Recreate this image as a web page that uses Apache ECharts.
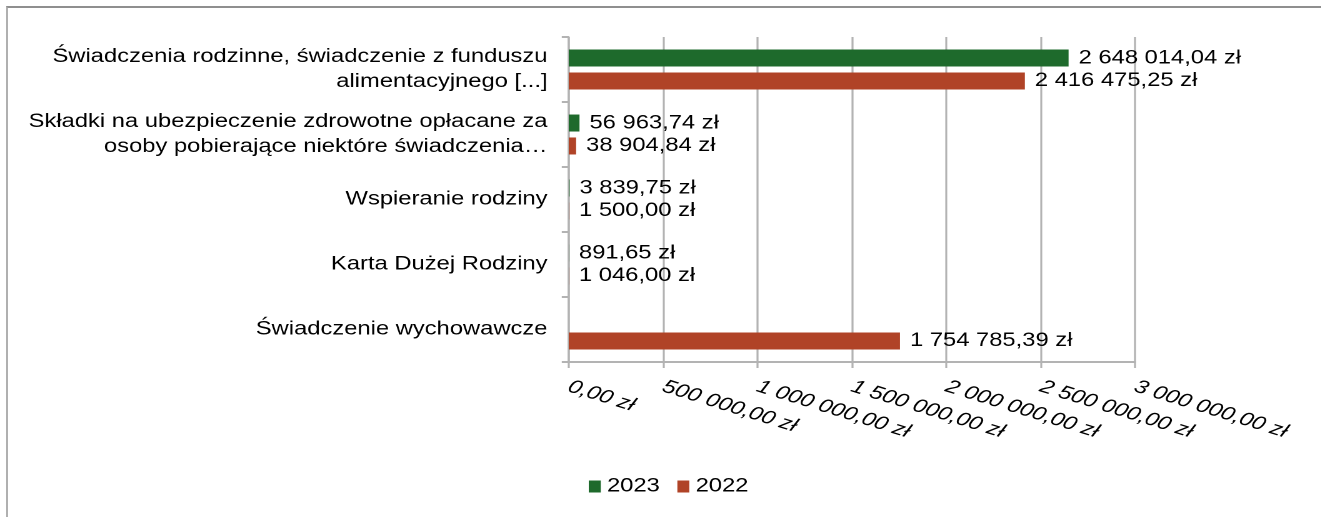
<!DOCTYPE html>
<html>
<head>
<meta charset="utf-8">
<script src="https://cdn.jsdelivr.net/npm/echarts@6/dist/echarts.min.js"></script>
<style>
  html, body { margin: 0; padding: 0; background: #fff; overflow: hidden; }
  #frame {
    position: absolute; left: 6px; top: 6px; width: 1400px; height: 600px;
    border-top: 2px solid #8f8f8f; border-left: 2px solid #b0b0b0;
  }
  /* the source picture is stretched sideways, so the chart is too */
  #chart {
    position: absolute; left: 0; top: 0; width: 1057px; height: 517px;
    transform: scaleX(1.25); transform-origin: 0 0;
  }
</style>
</head>
<body>
<div id="frame"></div>
<div id="chart"></div>
<script>
const categories = [
  'Świadczenia rodzinne, świadczenie z funduszu\nalimentacyjnego [...]',
  'Składki na ubezpieczenie zdrowotne opłacane za\nosoby pobierające niektóre świadczenia…',
  'Wspieranie rodziny',
  'Karta Dużej Rodziny',
  'Świadczenie wychowawcze'
];
const values2023 = [2648014.04, 56963.74, 3839.75, 891.65, null];
const values2022 = [2416475.25, 38904.84, 1500.00, 1046.00, 1754785.39];
const seriesNames = ['2023', '2022'];
const colors = ['#1e6a2c', '#b04327'];

function fmt(v) {
  let parts = Number(v).toFixed(2).split('.');
  parts[0] = parts[0].replace(/\B(?=(\d{3})+(?!\d))/g, ' ');
  return parts[0] + ',' + parts[1] + ' zł';
}

let chart = echarts.init(document.getElementById('chart'), null, { devicePixelRatio: 2 });
let font = 'Liberation Sans, Arial, sans-serif';

let barLabel = {
  show: true,
  position: 'right',
  distance: 8,
  color: '#000',
  fontFamily: font,
  fontSize: 19,
  formatter: p => fmt(p.value)
};

let option = {
  animation: false,
  textStyle: { fontFamily: font },
  grid: { left: 455, right: 149, top: 37, bottom: 155, containLabel: false },
  legend: {
    data: seriesNames,
    left: 466,
    top: 472,
    itemWidth: 9.6,
    itemHeight: 12,
    itemGap: 14,
    icon: 'rect',
    textStyle: { color: '#000', fontSize: 19, fontFamily: font }
  },
  xAxis: {
    type: 'value',
    min: 0,
    max: 3000000,
    interval: 500000,
    axisLine: { show: true, lineStyle: { color: '#b3b3b3', width: 2 } },
    axisTick: { show: true, length: 6, lineStyle: { color: '#b3b3b3', width: 1.6 } },
    splitLine: { show: true, lineStyle: { color: '#b3b3b3', width: 1.6 } },
    axisLabel: {
      rotate: -21,
      margin: 24,
      color: '#000',
      fontSize: 19,
      fontStyle: 'italic',
      fontFamily: font,
      formatter: v => fmt(v)
    }
  },
  yAxis: {
    type: 'category',
    data: categories,
    inverse: true,
    axisLine: { show: true, lineStyle: { color: '#b3b3b3', width: 1.6 } },
    axisTick: { show: true, length: 5.6, lineStyle: { color: '#b3b3b3', width: 2 } },
    axisLabel: {
      margin: 17,
      color: '#000',
      fontSize: 19,
      lineHeight: 25,
      align: 'right',
      fontFamily: font
    }
  },
  series: [
    {
      name: seriesNames[0],
      type: 'bar',
      data: values2023,
      barWidth: 17,
      barGap: '35%',
      itemStyle: { color: colors[0] },
      label: barLabel
    },
    {
      name: seriesNames[1],
      type: 'bar',
      data: values2022,
      barWidth: 17,
      barGap: '35%',
      itemStyle: { color: colors[1] },
      label: barLabel
    }
  ]
};
chart.setOption(option);
</script>
</body>
</html>
